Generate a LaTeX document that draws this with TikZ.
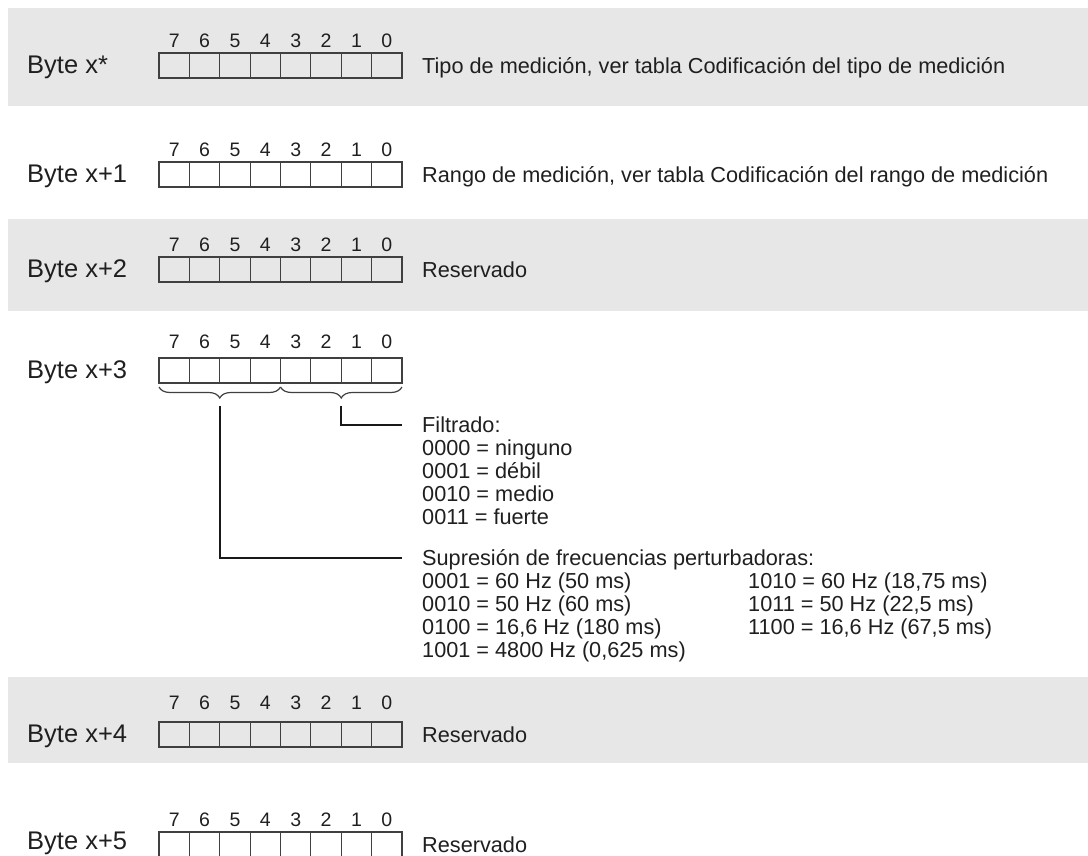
\documentclass[tikz,border=0pt]{standalone}
\usepackage{fontspec}
\setmainfont{Liberation Sans}
\usetikzlibrary{calc,positioning,decorations.pathreplacing}
\definecolor{bandgray}{RGB}{231,231,231}
\definecolor{inkgray}{RGB}{64,64,64}
\tikzset{
  band/.style={fill=bandgray, draw=none},
  cellrow/.style={draw=inkgray, line width=1.2pt, minimum width=243pt, minimum height=25pt, inner sep=0pt, outer sep=0pt},
  cellsep/.style={draw=inkgray, line width=1.2pt},
  bytelabel/.style={anchor=west, inner sep=0pt, text=black!88, font=\fontsize{25.5}{28}\selectfont, text height=23pt, text depth=4.74pt},
  bitnum/.style={inner sep=0pt, text=black!88, font=\fontsize{19.5}{21}\selectfont, text height=17.5pt, text depth=3.54pt},
  desc/.style={anchor=west, inner sep=0pt, text=black!88, font=\fontsize{21.7}{23}\selectfont, text height=20pt, text depth=4.46pt},
  link/.style={draw=black!90, line width=1.6pt},
  bitbrace/.style={draw=inkgray, line width=1.2pt, decorate, decoration={brace, mirror, amplitude=11pt, raise=4pt}}
}
% one byte: [label lift], name, digits y, box top y, label
\newcommand{\byterow}[5][0]{%
  \node[cellrow, anchor=north west] (#2) at (159,#4) {};
  \foreach \k in {1,...,7}
    \draw[cellsep] ($(#2.north west)+(30.375*\k,0)$) -- ++(0,25);
  \foreach \k [evaluate=\k as \b using int(7-\k)] in {0,...,7}
    \node[bitnum] (#2bit\k) at (174.19+30.375*\k,#3) {\b};
  \node[bytelabel] (#2label) at (27,#4+11-#1) {#5};
}

\begin{document}
\begin{tikzpicture}[x=1pt, y=-1pt]
	\useasboundingbox (0,0) rectangle (1088,855);
	\clip (0,0) rectangle (1088,855);
	
	%%%%% BANDS %%%%%
	\fill[band] (8,8) rectangle (1088,106);
	\fill[band] (8,219) rectangle (1088,311);
	\fill[band] (8,677) rectangle (1088,763);
	
	%%%%% BYTES %%%%%
	\byterow{rowA}{41}{53}{Byte x*}
	\byterow{rowB}{150}{162}{Byte x+1}
	\byterow{rowC}{245}{257}{Byte x+2}
	\byterow{rowD}{342}{358}{Byte x+3}
	\byterow{rowE}{703}{722}{Byte x+4}
	\byterow[3]{rowF}{820}{832}{Byte x+5}
	
	\node[desc, right=20pt of rowA] (descA) {Tipo de medición, ver tabla Codificación del tipo de medición};
	\node[desc, right=20pt of rowB] (descB) {Rango de medición, ver tabla Codificación del rango de medición};
	\node[desc, right=20pt of rowC] (descC) {Reservado};
	\node[desc, right=20pt of rowE] (descE) {Reservado};
	\node[desc, right=20pt of rowF] (descF) {Reservado};
	
	%%%%% BYTE x+3 %%%%%
	\draw[bitbrace] (rowD.south west) -- (rowD.south);
	\draw[bitbrace] (rowD.south) -- (rowD.south east);
	\coordinate (suprStart) at ($(rowD.south west)!0.5!(rowD.south)+(0,23)$);
	\coordinate (filtStart) at ($(rowD.south)!0.5!(rowD.south east)+(0,23)$);
	
	\node[desc] (filt0) at (422,425) {Filtrado:};
	\foreach \t [count=\i] in {{0000 = ninguno}, {0001 = débil}, {0010 = medio}, {0011 = fuerte}}
		\node[desc] (filt\i) at (422,425+23*\i) {\t};
	
	\node[desc] (supr0) at (422,558) {Supresión de frecuencias perturbadoras:};
	\foreach \t [count=\i] in {{0001 = 60 Hz (50 ms)}, {0010 = 50 Hz (60 ms)}, {0100 = 16,6 Hz (180 ms)}, {1001 = 4800 Hz (0,625 ms)}}
		\node[desc] (supr\i) at (422,558+23*\i) {\t};
	\foreach \t [count=\i] in {{1010 = 60 Hz (18,75 ms)}, {1011 = 50 Hz (22,5 ms)}, {1100 = 16,6 Hz (67,5 ms)}}
		\node[desc] (suprR\i) at (748,558+23*\i) {\t};
	
	\draw[link, shorten >=20pt] (filtStart) |- (filt0.west);
	\draw[link, shorten >=20pt] (suprStart) |- (supr0.west);
\end{tikzpicture}
\end{document}
